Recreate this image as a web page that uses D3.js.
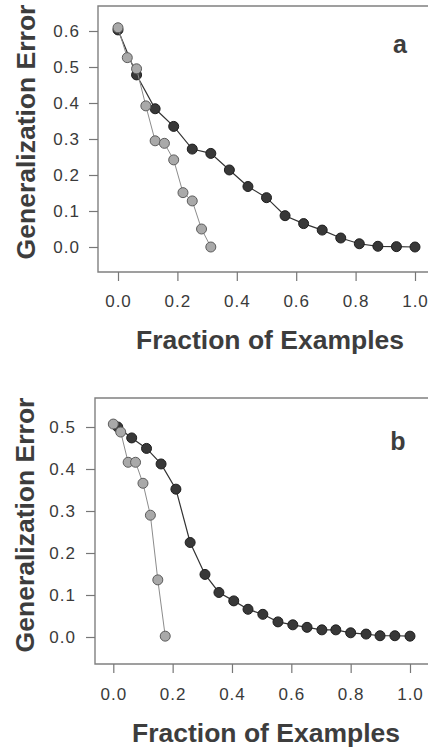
<!DOCTYPE html>
<html>
<head>
<meta charset="utf-8">
<script src="https://cdn.jsdelivr.net/npm/d3@7"></script>
<style>
  html, body { margin: 0; padding: 0; background: #fff; }
  svg { display: block; font-family: "Liberation Sans", Arial, sans-serif; }
  .axis .domain { display: none; }
  .axis line { stroke: #777; stroke-width: 1.2; }
  .axis text { font-size: 17px; fill: #3a3a3a; letter-spacing: 1px; }
  .axis-title { font-weight: bold; font-size: 26.5px; fill: #3d3d3d; }
  .panel-tag { font-weight: bold; font-size: 25px; fill: #3d3d3d; }
</style>
</head>
<body>
<div id="chart"></div>
<script>
// panel a
const aBlackX = [0, 0.0625, 0.125, 0.1875, 0.25, 0.3125, 0.375, 0.4375, 0.5, 0.5625, 0.625, 0.6875, 0.75, 0.8125, 0.875, 0.9375, 1.0];
const aBlackY = [0.603, 0.478, 0.384, 0.335, 0.272, 0.26, 0.214, 0.168, 0.137, 0.087, 0.065, 0.047, 0.025, 0.009, 0.002, 0.001, 0.0];
const aGrayX = [0, 0.03125, 0.0625, 0.09375, 0.125, 0.15625, 0.1875, 0.21875, 0.25, 0.28125, 0.3125];
const aGrayY = [0.609, 0.526, 0.495, 0.392, 0.295, 0.288, 0.242, 0.151, 0.128, 0.05, 0.0];

// panel b
const bBlackX = [0.015, 0.062, 0.112, 0.161, 0.211, 0.259, 0.309, 0.356, 0.406, 0.454, 0.504, 0.555, 0.605, 0.653, 0.703, 0.75, 0.8, 0.852, 0.899, 0.949, 1.0];
const bBlackY = [0.5, 0.474, 0.449, 0.412, 0.352, 0.225, 0.149, 0.106, 0.086, 0.066, 0.054, 0.036, 0.029, 0.023, 0.017, 0.017, 0.01, 0.007, 0.003, 0.003, 0.002];
const bGrayX = [0, 0.025, 0.05, 0.075, 0.1, 0.125, 0.15, 0.175];
const bGrayY = [0.507, 0.488, 0.416, 0.416, 0.366, 0.29, 0.136, 0.002];

const xTicks = [0, 0.2, 0.4, 0.6, 0.8, 1.0];
const aYTicks = [0, 0.1, 0.2, 0.3, 0.4, 0.5, 0.6];
const bYTicks = [0, 0.1, 0.2, 0.3, 0.4, 0.5];

const xLabel = "Fraction of Examples";
const yLabel = "Generalization Error";

const width = 428;
const height = 748;

const svg = d3.select("#chart")
  .append("svg")
  .attr("width", width)
  .attr("height", height)
  .attr("viewBox", [0, 0, width, height]);

const fmt = d3.format(".1f");

function drawPanel(g, p) {
  const x = d3.scaleLinear().domain([0, 1]).range(p.xRange);
  const y = d3.scaleLinear().domain([0, p.yTicks[p.yTicks.length - 1]]).range(p.yRange);

  // frame (right side runs off the page, as in the scan)
  g.append("path")
    .attr("fill", "none")
    .attr("stroke", "#808080")
    .attr("stroke-width", 1.4)
    .attr("d", `M${p.frame.right},${p.frame.top}H${p.frame.left}V${p.frame.bottom}H${p.frame.right}`);

  g.append("g")
    .attr("class", "axis axis--x")
    .attr("transform", `translate(0,${p.frame.bottom})`)
    .call(d3.axisBottom(x).tickValues(xTicks).tickSize(9).tickPadding(p.xPad).tickFormat(fmt));

  g.append("g")
    .attr("class", "axis axis--y")
    .attr("transform", `translate(${p.frame.left},0)`)
    .call(d3.axisLeft(y).tickValues(p.yTicks).tickSize(9).tickPadding(p.yPad).tickFormat(fmt));

  const line = d3.line().x((d) => x(d[0])).y((d) => y(d[1]));

  p.series.forEach((s) => {
    const pts = d3.zip(s.xs, s.ys);
    g.append("path")
      .attr("fill", "none")
      .attr("stroke", s.lineColor)
      .attr("stroke-width", s.lineWidth)
      .attr("d", line(pts));
    g.append("g")
      .selectAll("circle")
      .data(pts)
      .join("circle")
      .attr("cx", (d) => x(d[0]))
      .attr("cy", (d) => y(d[1]))
      .attr("r", 5)
      .attr("fill", s.fill)
      .attr("stroke", s.stroke)
      .attr("stroke-width", 1);
  });

  g.append("text")
    .attr("class", "axis-title")
    .attr("x", p.xTitle[0])
    .attr("y", p.xTitle[1])
    .attr("text-anchor", "middle")
    .text(xLabel);

  g.append("text")
    .attr("class", "axis-title")
    .attr("transform", `translate(${p.yTitle[0]},${p.yTitle[1]}) rotate(-90)`)
    .attr("text-anchor", "middle")
    .text(yLabel);

  g.append("text")
    .attr("class", "panel-tag")
    .attr("x", p.tag[0])
    .attr("y", p.tag[1])
    .attr("text-anchor", "middle")
    .text(p.tagText);
}

const blackStyle = { fill: "#383838", stroke: "#1e1e1e", lineColor: "#333", lineWidth: 1.2 };
const grayStyle = { fill: "#a9a9a9", stroke: "#5c5c5c", lineColor: "#8c8c8c", lineWidth: 1 };

drawPanel(svg.append("g"), {
  frame: { left: 98, top: 6, right: 440, bottom: 272 },
  xRange: [118, 415],
  yRange: [247, 31],
  yTicks: aYTicks,
  xPad: 14,
  yPad: 9,
  xTitle: [270, 349],
  yTitle: [35, 132],
  tag: [400, 53],
  tagText: "a",
  series: [
    { xs: aBlackX, ys: aBlackY, ...blackStyle },
    { xs: aGrayX, ys: aGrayY, ...grayStyle },
  ],
});

drawPanel(svg.append("g"), {
  frame: { left: 95, top: 398, right: 440, bottom: 664 },
  xRange: [113.3, 410],
  yRange: [637, 427],
  yTicks: bYTicks,
  xPad: 15,
  yPad: 10,
  xTitle: [266, 742],
  yTitle: [34, 525],
  tag: [398, 450],
  tagText: "b",
  series: [
    { xs: bBlackX, ys: bBlackY, ...blackStyle },
    { xs: bGrayX, ys: bGrayY, ...grayStyle },
  ],
});
</script>
</body>
</html>
